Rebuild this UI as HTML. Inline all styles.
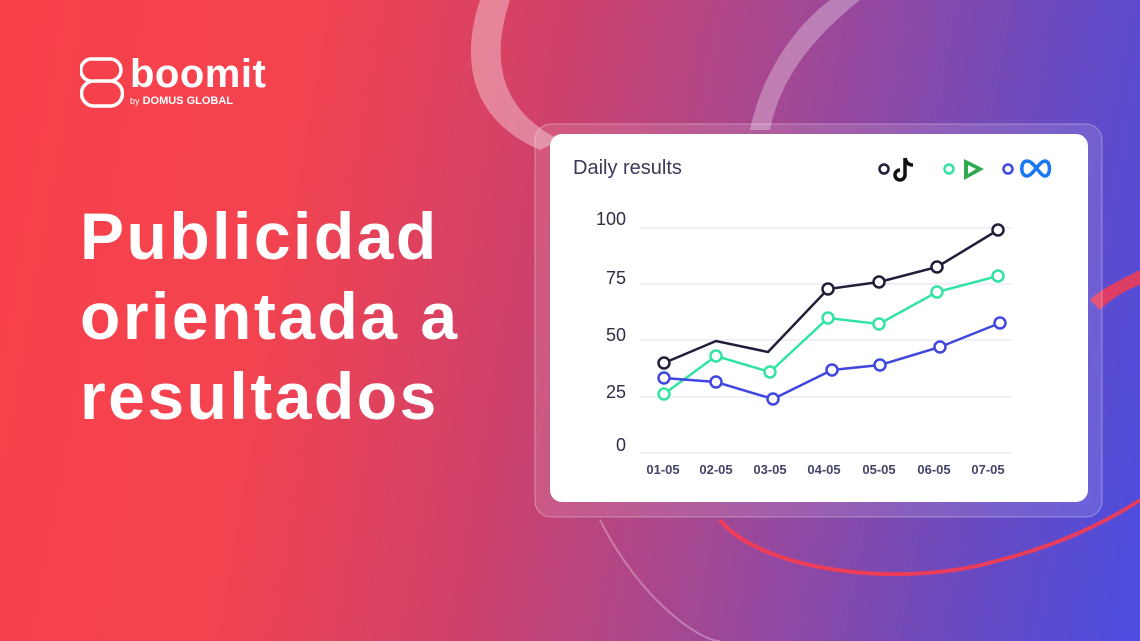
<!DOCTYPE html>
<html><head><meta charset="utf-8"><style>
html,body{margin:0;padding:0;width:1140px;height:641px;overflow:hidden}
body{position:relative;font-family:"Liberation Sans",sans-serif;
background:linear-gradient(100deg,#f8404a 0%,#f3434f 25%,#d0416a 45%,#a04896 65%,#6a4ac0 85%,#4a4de0 100%);}
.abs{position:absolute}
h1{position:absolute;left:80px;top:196px;margin:0;color:#fff;font-weight:bold;font-size:66px;line-height:80px;letter-spacing:2.5px}
</style></head><body>
<svg class="abs" style="left:0;top:0" width="1140" height="641">
<path d="M480 0 C460 60 470 120 540 150 L560 140 C500 110 490 60 510 0Z" fill="#fff" opacity="0.35"/>
<path d="M830 0 C790 30 760 80 750 130 L770 130 C780 80 810 40 860 0Z" fill="#fff" opacity="0.3"/>
<path d="M1140 270 C1110 285 1100 290 1090 300 L1100 310 C1110 300 1125 290 1140 285Z" fill="#ff3b4a" opacity="0.8"/>
<path d="M720 520 C760 570 900 590 1000 560 C1060 545 1110 520 1140 500" fill="none" stroke="#ff3b4a" stroke-width="4" opacity="0.85"/>
<path d="M600 520 C640 600 700 641 720 641" fill="none" stroke="#fff" stroke-width="2" opacity="0.3"/>
<rect x="535" y="124" width="567" height="393" rx="16" fill="#fff" fill-opacity="0.12" stroke="#fff" stroke-opacity="0.35"/>
</svg>
<svg class="abs" style="left:80px;top:56px" width="44" height="54" viewBox="0 0 44 54">
<path d="M10 3 H30 A11 11 0 0 1 30 25 H14 A12 12 0 0 0 14 50 H30 A12 12 0 0 0 30 25 H14 A11 11 0 0 1 10 3Z" fill="none" stroke="#fff" stroke-width="3.5"/>
</svg>
<div class="abs" style="left:130px;top:52px;color:#fff;font-size:40px;font-weight:bold;letter-spacing:0.5px">boomit</div>
<div class="abs" style="left:130px;top:95px;color:#fff;font-size:11px;font-weight:bold"><span style="font-size:9px;font-weight:normal">by</span> DOMUS GLOBAL</div>
<h1>Publicidad<br>orientada a<br>resultados</h1>
<div class="abs" style="left:550px;top:134px;width:538px;height:368px;background:#fff;border-radius:12px"></div>
<div class="abs" style="left:573px;top:157px;font-size:20px;color:#3a3a58">Daily results</div>
<svg class="abs" style="left:0;top:0" width="1140" height="641">
<g stroke="#ececf8" stroke-width="1.5">
<line x1="640" x2="1012" y1="228" y2="228"/><line x1="640" x2="1012" y1="284" y2="284"/>
<line x1="640" x2="1012" y1="340" y2="340"/><line x1="640" x2="1012" y1="397" y2="397"/>
<line x1="640" x2="1012" y1="453" y2="453"/></g>
<g font-family="Liberation Sans,sans-serif" font-size="18" fill="#2e2e45" text-anchor="end">
<text x="626" y="225">100</text><text x="626" y="284">75</text><text x="626" y="341">50</text><text x="626" y="398">25</text><text x="626" y="451">0</text></g>
<g font-family="Liberation Sans,sans-serif" font-size="13" font-weight="bold" fill="#44446a" text-anchor="middle">
<text x="663" y="474">01-05</text><text x="716" y="474">02-05</text><text x="770" y="474">03-05</text><text x="824" y="474">04-05</text><text x="879" y="474">05-05</text><text x="934" y="474">06-05</text><text x="988" y="474">07-05</text></g>
<g fill="none" stroke-width="2.5">
<polyline stroke="#1f1f3a" points="664,363 716,341 768,352 828,289 879,282 937,267 998,230"/>
<polyline stroke="#33e3a1" points="664,394 716,356 770,372 828,318 879,324 937,292 998,276"/>
<polyline stroke="#4146e0" points="664,378 716,382 773,399 832,370 880,365 940,347 1000,323"/>
</g>
<g fill="#fff" stroke-width="2.5">
<g stroke="#1f1f3a"><circle cx="664" cy="363" r="5.5"/><circle cx="828" cy="289" r="5.5"/><circle cx="879" cy="282" r="5.5"/><circle cx="937" cy="267" r="5.5"/><circle cx="998" cy="230" r="5.5"/></g>
<g stroke="#33e3a1"><circle cx="664" cy="394" r="5.5"/><circle cx="716" cy="356" r="5.5"/><circle cx="770" cy="372" r="5.5"/><circle cx="828" cy="318" r="5.5"/><circle cx="879" cy="324" r="5.5"/><circle cx="937" cy="292" r="5.5"/><circle cx="998" cy="276" r="5.5"/></g>
<g stroke="#4146e0"><circle cx="664" cy="378" r="5.5"/><circle cx="716" cy="382" r="5.5"/><circle cx="773" cy="399" r="5.5"/><circle cx="832" cy="370" r="5.5"/><circle cx="880" cy="365" r="5.5"/><circle cx="940" cy="347" r="5.5"/><circle cx="1000" cy="323" r="5.5"/></g>
<circle cx="884" cy="169" r="4.5" stroke="#1f1f3a"/>
<circle cx="949" cy="169" r="4.5" stroke="#33e3a1"/>
<circle cx="1008" cy="169" r="4.5" stroke="#4146e0"/>
</g>
<path d="M905 158 V175 A5 5 0 1 1 900 170 M905 158 C906 163 909 165 913 165" fill="none" stroke="#111" stroke-width="3.5"/>
<path d="M964 159 L984 169 L964 180Z" fill="#2fa84f"/><path d="M968 165 L976 169 L968 174Z" fill="#fff"/>
<path d="M1027 176 C1020 176 1020 161 1027 161 C1034 161 1040 176 1045 176 C1051 176 1051 161 1045 161 C1039 161 1033 176 1027 176Z" fill="none" stroke="#1877f2" stroke-width="3.5"/>
</svg>
</body></html>
